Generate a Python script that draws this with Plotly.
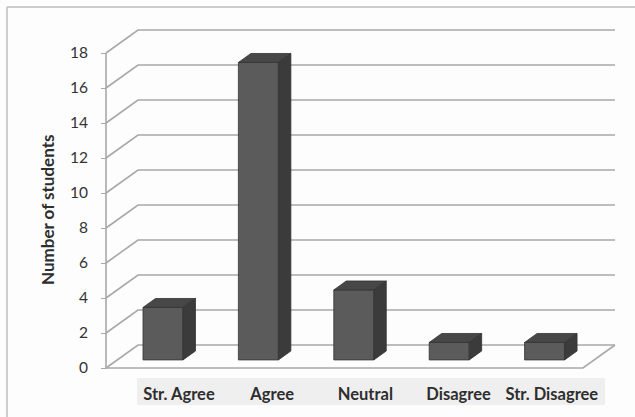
import plotly.graph_objects as go

# Survey responses
categories = ["Str. Agree", "Agree", "Neutral", "Disagree", "Str. Disagree"]
counts = [3, 17, 4, 1, 1]
y_ticks = [0, 2, 4, 6, 8, 10, 12, 14, 16, 18]
y_title = "Number of students"

# 3-D look: oblique projection of (x, value, depth) onto the 2-D axes
PX_PER_CAT = 95.4          # pixels per category step
PX_PER_UNIT = 17.5         # pixels per student
DEPTH_DX = 32 / PX_PER_CAT   # back-wall shift in category units
DEPTH_DY = 23 / PX_PER_UNIT  # back-wall shift in value units
HALF_W = 20 / PX_PER_CAT     # half bar width
BAR_Z0, BAR_Z1 = 0.35, 0.74  # bar depth span (0 = front, 1 = back wall)
BAR_SHIFT = -0.02

GRID = "#a8a8a8"
FRONT, TOP, SIDE, EDGE = "#5b5b5b", "#474747", "#3b3b3b", "#343434"


def proj(x, y, z):
    return x + z * DEPTH_DX, y + z * DEPTH_DY


def poly(points, fill=None, line=GRID, width=1.6):
    xs, ys = zip(*[proj(*p) for p in points])
    kw = dict(x=list(xs), y=list(ys), mode="lines",
              line=dict(color=line, width=width),
              hoverinfo="skip", showlegend=False)
    if fill:
        kw.update(fill="toself", fillcolor=fill)
    return go.Scatter(**kw)


fig = go.Figure()
x_lo, x_hi = -0.5, len(categories) - 0.5

# back wall and side wall grid lines
for v in y_ticks:
    fig.add_trace(poly([(x_lo, v, 0), (x_lo, v, 1), (x_hi, v, 1)]))

# floor outline and front vertical edge
fig.add_trace(poly([(x_lo, 0, 0), (x_hi, 0, 0), (x_hi, 0, 1)]))
fig.add_trace(poly([(x_lo, 0, 0), (x_lo, y_ticks[-1], 0)]))

# bars: front, top and right faces
for i, v in enumerate(counts):
    a, b = i + BAR_SHIFT - HALF_W, i + BAR_SHIFT + HALF_W
    fig.add_trace(poly([(a, 0, BAR_Z0), (b, 0, BAR_Z0), (b, v, BAR_Z0),
                        (a, v, BAR_Z0), (a, 0, BAR_Z0)],
                       fill=FRONT, line=EDGE, width=0.8))
    fig.add_trace(poly([(a, v, BAR_Z0), (b, v, BAR_Z0), (b, v, BAR_Z1),
                        (a, v, BAR_Z1), (a, v, BAR_Z0)],
                       fill=TOP, line=EDGE, width=0.8))
    fig.add_trace(poly([(b, 0, BAR_Z0), (b, 0, BAR_Z1), (b, v, BAR_Z1),
                        (b, v, BAR_Z0), (b, 0, BAR_Z0)],
                       fill=SIDE, line=EDGE, width=0.8))

W, H = 635, 417
plot_bottom = 378           # pixel row of the x-axis baseline
front_left_px = 153.7 - PX_PER_CAT / 2
zero_px = 368

x_range = [(0 - 153.7) / PX_PER_CAT, (W - 153.7) / PX_PER_CAT]
y_range = [(zero_px - plot_bottom) / PX_PER_UNIT, zero_px / PX_PER_UNIT]

label_pos = [0.265 + i * 0.977 for i in range(len(categories))]

fig.update_layout(
    width=W, height=H,
    margin=dict(l=0, r=0, t=0, b=0),
    paper_bgcolor="#fdfdfd", plot_bgcolor="rgba(0,0,0,0)",
    font=dict(family="Lato", color="#333333"),
    xaxis=dict(range=x_range, domain=[0, 1], showgrid=False, zeroline=False,
               showline=False, ticks="", tickvals=label_pos,
               ticktext=categories, ticklabelstandoff=4,
               tickfont=dict(family="Lato", size=16.5, color="#2e2e2e",
                             weight="bold"),
               fixedrange=True),
    yaxis=dict(range=y_range, domain=[(H - plot_bottom) / H, 1],
               anchor="free", position=front_left_px / W,
               showgrid=False, zeroline=False, showline=False,
               tickvals=y_ticks, ticks="outside", ticklen=5,
               tickcolor=GRID, tickwidth=1.4, ticklabelstandoff=10,
               tickfont=dict(family="Lato", size=15.5, color="#333333"),
               fixedrange=True),
    shapes=[
        # light band behind the category labels
        dict(type="rect", xref="paper", yref="paper", layer="below",
             x0=137 / W, x1=605 / W, y0=(H - 405) / H, y1=(H - 378) / H,
             fillcolor="#efefef", line=dict(width=0)),
        # chart frame (top and left edges)
        dict(type="line", xref="paper", yref="paper",
             x0=7 / W, x1=1, y0=(H - 7) / H, y1=(H - 7) / H,
             line=dict(color="#bdbdbd", width=1.5)),
        dict(type="line", xref="paper", yref="paper",
             x0=7 / W, x1=7 / W, y0=0, y1=(H - 7) / H,
             line=dict(color="#bdbdbd", width=1.5)),
    ],
    annotations=[
        dict(text=y_title, xref="paper", yref="paper",
             x=47 / W, y=(H - 210) / H, xanchor="center", yanchor="middle",
             showarrow=False, textangle=-90,
             font=dict(family="Lato", size=17, color="#2e2e2e",
                       weight="bold"))
    ],
)

fig.write_html("out.html")
